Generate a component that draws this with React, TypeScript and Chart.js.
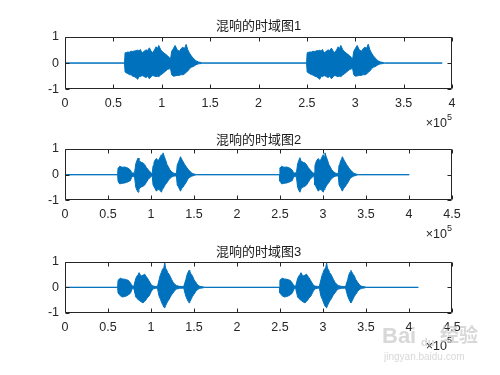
import React, { useEffect, useRef } from 'react';
import { Chart, registerables } from 'chart.js';

Chart.register(...registerables);

// ---------------- data (x in units of 10^5 samples) ----------------
const xTicks1Max = 4;
const xTicks23Max = 4.5;
const yTickValues = [-1, 0, 1];
const titles = ['混响的时域图1', '混响的时域图2', '混响的时域图3'];
const exponentBase = '×10';
const exponentPower = '5';

// Subplot 1: envelope of the waveform (upper / lower)
const p1Time = [
  0, 0.615, 0.621, 0.635, 0.648, 0.665, 0.683, 0.700, 0.717, 0.735, 0.752, 0.765, 0.779, 0.790, 0.804, 0.820,
  0.838, 0.855, 0.872, 0.890, 0.907, 0.925, 0.941, 0.955, 0.969, 0.990, 1.010, 1.035, 1.062, 1.080, 1.090,
  1.103, 1.120, 1.138, 1.160, 1.183, 1.200, 1.217, 1.235, 1.252, 1.270, 1.286, 1.305, 1.321, 1.340, 1.355,
  1.380, 1.407, 1.420,
  2.497, 2.503, 2.517, 2.530, 2.547, 2.565, 2.582, 2.599, 2.617, 2.634, 2.647, 2.661, 2.672, 2.686, 2.702,
  2.720, 2.737, 2.754, 2.772, 2.789, 2.807, 2.823, 2.837, 2.851, 2.872, 2.892, 2.917, 2.944, 2.962, 2.972,
  2.985, 3.002, 3.020, 3.042, 3.065, 3.082, 3.099, 3.117, 3.134, 3.152, 3.168, 3.187, 3.203, 3.222, 3.237,
  3.262, 3.289, 3.302, 3.899,
];
const p1Upper = [
  0, 0, 0.39, 0.40, 0.42, 0.41, 0.45, 0.44, 0.46, 0.47, 0.50, 0.45, 0.52, 0.42, 0.40, 0.46,
  0.50, 0.48, 0.58, 0.45, 0.40, 0.50, 0.62, 0.55, 0.67, 0.50, 0.42, 0.35, 0.27, 0.20, 0.14,
  0.45, 0.55, 0.67, 0.50, 0.45, 0.55, 0.60, 0.55, 0.71, 0.50, 0.38, 0.28, 0.20, 0.14, 0.08,
  0.04, 0.02, 0,
  0, 0.39, 0.41, 0.42, 0.42, 0.45, 0.44, 0.47, 0.47, 0.49, 0.45, 0.52, 0.43, 0.40, 0.46,
  0.50, 0.48, 0.57, 0.45, 0.40, 0.50, 0.62, 0.55, 0.67, 0.50, 0.42, 0.35, 0.27, 0.20, 0.14,
  0.45, 0.56, 0.67, 0.50, 0.45, 0.55, 0.60, 0.56, 0.72, 0.50, 0.38, 0.28, 0.20, 0.14, 0.08,
  0.04, 0.02, 0, 0,
];
const p1Lower = [
  0, 0, -0.34, -0.38, -0.40, -0.44, -0.45, -0.50, -0.52, -0.56, -0.62, -0.50, -0.52, -0.49, -0.48, -0.52,
  -0.55, -0.50, -0.60, -0.52, -0.47, -0.50, -0.52, -0.50, -0.52, -0.45, -0.40, -0.32, -0.24, -0.22, -0.20,
  -0.45, -0.50, -0.49, -0.47, -0.47, -0.44, -0.45, -0.42, -0.35, -0.30, -0.22, -0.16, -0.14, -0.10, -0.06,
  -0.03, -0.02, 0,
  0, -0.34, -0.38, -0.41, -0.44, -0.46, -0.50, -0.52, -0.57, -0.62, -0.50, -0.52, -0.49, -0.48, -0.52,
  -0.55, -0.50, -0.60, -0.52, -0.47, -0.50, -0.52, -0.50, -0.52, -0.45, -0.40, -0.32, -0.24, -0.22, -0.20,
  -0.45, -0.50, -0.49, -0.47, -0.47, -0.44, -0.45, -0.42, -0.35, -0.30, -0.22, -0.16, -0.14, -0.10, -0.06,
  -0.03, -0.02, 0, 0,
];

// Subplot 2
const p2Time = [
  0, 0.612, 0.617, 0.627, 0.637, 0.655, 0.675, 0.695, 0.714, 0.730, 0.745, 0.761, 0.775, 0.792, 0.810, 0.823,
  0.836, 0.850, 0.860, 0.869, 0.888, 0.908, 0.927, 0.946, 0.966, 0.986, 1.005, 1.015, 1.024, 1.034, 1.044,
  1.063, 1.080, 1.094, 1.108, 1.121, 1.131, 1.141, 1.155, 1.168, 1.187, 1.203, 1.218, 1.238, 1.257, 1.277,
  1.296, 1.305, 1.315, 1.330, 1.343, 1.355, 1.366, 1.393, 1.412, 1.432, 1.452, 1.471, 1.490, 1.509, 1.530,
  2.494, 2.499, 2.509, 2.519, 2.537, 2.557, 2.577, 2.596, 2.612, 2.627, 2.643, 2.657, 2.674, 2.692, 2.705,
  2.718, 2.732, 2.742, 2.751, 2.770, 2.790, 2.809, 2.828, 2.848, 2.868, 2.887, 2.897, 2.906, 2.916, 2.926,
  2.945, 2.962, 2.976, 2.990, 3.003, 3.013, 3.023, 3.037, 3.050, 3.069, 3.085, 3.100, 3.120, 3.139, 3.159,
  3.178, 3.187, 3.197, 3.212, 3.225, 3.237, 3.248, 3.275, 3.294, 3.314, 3.334, 3.353, 3.372, 3.391, 3.412,
  4.003,
];
const p2Upper = [
  0, 0, 0.26, 0.30, 0.33, 0.30, 0.29, 0.30, 0.28, 0.26, 0.22, 0.18, 0.08, 0.06, 0.10, 0.42,
  0.55, 0.65, 0.55, 0.52, 0.48, 0.46, 0.39, 0.28, 0.20, 0.12, 0.06, 0.08, 0.35, 0.46, 0.55,
  0.63, 0.55, 0.59, 0.70, 0.78, 0.70, 0.85, 0.70, 0.59, 0.39, 0.30, 0.20, 0.12, 0.07, 0.05,
  0.05, 0.38, 0.46, 0.58, 0.70, 0.62, 0.55, 0.39, 0.30, 0.20, 0.14, 0.07, 0.04, 0.02, 0,
  0, 0.26, 0.30, 0.33, 0.30, 0.29, 0.30, 0.28, 0.26, 0.22, 0.18, 0.08, 0.06, 0.10, 0.42,
  0.55, 0.66, 0.55, 0.52, 0.48, 0.46, 0.39, 0.28, 0.20, 0.12, 0.06, 0.08, 0.35, 0.46, 0.55,
  0.63, 0.55, 0.59, 0.70, 0.78, 0.70, 0.85, 0.70, 0.59, 0.39, 0.30, 0.20, 0.12, 0.07, 0.05,
  0.05, 0.38, 0.46, 0.58, 0.70, 0.62, 0.55, 0.39, 0.30, 0.20, 0.14, 0.07, 0.04, 0.02, 0,
  0,
];
const p2Lower = [
  0, 0, -0.25, -0.30, -0.36, -0.34, -0.33, -0.32, -0.30, -0.28, -0.25, -0.23, -0.10, -0.06, -0.12, -0.49,
  -0.60, -0.68, -0.58, -0.51, -0.48, -0.45, -0.40, -0.30, -0.19, -0.12, -0.06, -0.08, -0.40, -0.45, -0.52,
  -0.64, -0.58, -0.58, -0.62, -0.68, -0.58, -0.54, -0.45, -0.38, -0.30, -0.22, -0.15, -0.10, -0.06, -0.05,
  -0.05, -0.40, -0.45, -0.55, -0.64, -0.55, -0.51, -0.38, -0.28, -0.15, -0.10, -0.06, -0.04, -0.02, 0,
  0, -0.25, -0.30, -0.36, -0.34, -0.33, -0.32, -0.30, -0.28, -0.25, -0.23, -0.10, -0.06, -0.12, -0.49,
  -0.60, -0.68, -0.58, -0.51, -0.48, -0.45, -0.40, -0.30, -0.19, -0.12, -0.06, -0.08, -0.40, -0.45, -0.52,
  -0.64, -0.58, -0.58, -0.62, -0.68, -0.58, -0.54, -0.45, -0.38, -0.30, -0.22, -0.15, -0.10, -0.06, -0.05,
  -0.05, -0.40, -0.45, -0.55, -0.64, -0.55, -0.51, -0.38, -0.28, -0.15, -0.10, -0.06, -0.04, -0.02, 0,
  0,
];

// Subplot 3
const p3Time = [
  0, 0.612,
  0.617, 0.629, 0.644, 0.668, 0.695, 0.714, 0.734, 0.752, 0.765, 0.780, 0.800,
  0.823, 0.838, 0.850, 0.862, 0.875, 0.889, 0.908, 0.927, 0.939, 0.955, 0.978, 1.005, 1.024, 1.050, 1.075,
  1.094, 1.110, 1.122, 1.133, 1.141, 1.150, 1.160, 1.170, 1.180, 1.195, 1.211, 1.225, 1.238, 1.257, 1.277,
  1.296, 1.330, 1.380,
  1.405, 1.420, 1.432, 1.443, 1.451, 1.462, 1.471, 1.482, 1.498, 1.510, 1.521, 1.537, 1.550, 1.568, 1.585,
  1.606, 1.620,
  2.494,
  2.499, 2.511, 2.526, 2.550, 2.577, 2.596, 2.616, 2.634, 2.647, 2.662, 2.682,
  2.705, 2.720, 2.732, 2.744, 2.757, 2.771, 2.790, 2.809, 2.821, 2.837, 2.860, 2.887, 2.906, 2.932, 2.957,
  2.976, 2.992, 3.004, 3.015, 3.023, 3.032, 3.042, 3.052, 3.062, 3.077, 3.093, 3.107, 3.120, 3.139, 3.159,
  3.178, 3.212, 3.262,
  3.287, 3.302, 3.314, 3.325, 3.333, 3.344, 3.353, 3.364, 3.380, 3.392, 3.403, 3.419, 3.432, 3.450, 3.467,
  3.488, 3.502,
  4.108,
];
const p3Upper = [
  0, 0,
  0.28, 0.32, 0.36, 0.33, 0.32, 0.30, 0.28, 0.22, 0.15, 0.06, 0.04,
  0.35, 0.45, 0.50, 0.58, 0.50, 0.45, 0.48, 0.52, 0.45, 0.38, 0.25, 0.09, 0.05, 0.04, 0.03,
  0.30, 0.51, 0.60, 0.71, 0.75, 0.78, 0.97, 0.75, 0.71, 0.58, 0.51, 0.42, 0.32, 0.20, 0.12,
  0.07, 0.04, 0.03,
  0.30, 0.51, 0.60, 0.67, 0.62, 0.55, 0.51, 0.45, 0.32, 0.25, 0.20, 0.12, 0.08, 0.04, 0.03,
  0.02, 0,
  0,
  0.28, 0.32, 0.36, 0.33, 0.32, 0.30, 0.28, 0.22, 0.15, 0.06, 0.04,
  0.35, 0.45, 0.50, 0.58, 0.50, 0.45, 0.48, 0.52, 0.45, 0.38, 0.25, 0.09, 0.05, 0.04, 0.03,
  0.30, 0.51, 0.60, 0.71, 0.75, 0.78, 0.97, 0.75, 0.71, 0.58, 0.51, 0.42, 0.32, 0.20, 0.12,
  0.07, 0.04, 0.03,
  0.30, 0.51, 0.60, 0.67, 0.62, 0.55, 0.51, 0.45, 0.32, 0.25, 0.20, 0.12, 0.08, 0.04, 0.03,
  0.02, 0,
  0,
];
const p3Lower = [
  0, 0,
  -0.22, -0.28, -0.33, -0.38, -0.36, -0.34, -0.30, -0.26, -0.20, -0.06, -0.04,
  -0.38, -0.44, -0.48, -0.51, -0.55, -0.58, -0.61, -0.55, -0.51, -0.42, -0.34, -0.15, -0.06, -0.04, -0.03,
  -0.35, -0.47, -0.58, -0.67, -0.72, -0.78, -0.81, -0.72, -0.65, -0.55, -0.47, -0.38, -0.30, -0.22, -0.12,
  -0.07, -0.04, -0.03,
  -0.35, -0.47, -0.55, -0.61, -0.57, -0.50, -0.44, -0.36, -0.28, -0.22, -0.16, -0.10, -0.07, -0.04, -0.03,
  -0.02, 0,
  0,
  -0.22, -0.28, -0.33, -0.38, -0.36, -0.34, -0.30, -0.26, -0.20, -0.06, -0.04,
  -0.38, -0.44, -0.48, -0.51, -0.55, -0.58, -0.61, -0.55, -0.51, -0.42, -0.34, -0.15, -0.06, -0.04, -0.03,
  -0.35, -0.47, -0.58, -0.67, -0.72, -0.78, -0.81, -0.72, -0.65, -0.55, -0.47, -0.38, -0.30, -0.22, -0.12,
  -0.07, -0.04, -0.03,
  -0.35, -0.47, -0.55, -0.61, -0.57, -0.50, -0.44, -0.36, -0.28, -0.22, -0.16, -0.10, -0.07, -0.04, -0.03,
  -0.02, 0,
  0,
];

// ---------------- styling / layout ----------------
const W = 500;
const H = 375;
const BLUE = '#0072BD';
const AXIS = '#262626';
const FONT = '"Liberation Sans", Arial, "Noto Sans CJK SC", sans-serif';
const TICK_SIZE = 12.5;
const TITLE_SIZE = 13;
const X_AXIS_H = 42;
const Y_AXIS_W = 65;

type Cfg = {
  title: string;
  time: number[];
  upper: number[];
  lower: number[];
  xMax: number;
  titleCenter: number;
  boxTop: number;
  boxBottom: number;
  watermark?: boolean;
};

const configs: Cfg[] = [
  { title: titles[0], time: p1Time, upper: p1Upper, lower: p1Lower, xMax: xTicks1Max, titleCenter: 26.2, boxTop: 36.8, boxBottom: 89.3 },
  { title: titles[1], time: p2Time, upper: p2Upper, lower: p2Lower, xMax: xTicks23Max, titleCenter: 140, boxTop: 149, boxBottom: 200.4 },
  { title: titles[2], time: p3Time, upper: p3Upper, lower: p3Lower, xMax: xTicks23Max, titleCenter: 252.8, boxTop: 262, boxBottom: 312.7, watermark: true },
];

const framePlugin = {
  id: 'matlabFrame',
  afterDatasetsDraw(chart: any) {
    const { ctx, chartArea, scales } = chart;
    const { left, right, top, bottom } = chartArea;
    const L = Math.round(left) + 0.5;
    const R = Math.round(right) - 0.5;
    const T = Math.round(top) + 0.5;
    const B = Math.round(bottom) - 0.5;
    ctx.save();
    ctx.strokeStyle = AXIS;
    ctx.lineWidth = 1;
    ctx.beginPath();
    ctx.rect(L, T, R - L, B - T);
    const tl = 4;
    for (const t of scales.x.ticks) {
      const px = Math.round(scales.x.getPixelForValue(t.value)) + 0.5;
      ctx.moveTo(px, B); ctx.lineTo(px, B - tl);
      ctx.moveTo(px, T); ctx.lineTo(px, T + tl);
    }
    for (const t of scales.y.ticks) {
      const py = Math.round(scales.y.getPixelForValue(t.value)) + 0.5;
      ctx.moveTo(L, py); ctx.lineTo(L + tl, py);
      ctx.moveTo(R, py); ctx.lineTo(R - tl, py);
    }
    ctx.stroke();
    ctx.restore();
  },
  afterDraw(chart: any, _args: any, opts: any) {
    const { ctx, chartArea } = chart;
    // exponent label "×10^5" under the right end of the x axis
    const yBase = chartArea.bottom + 34;
    ctx.save();
    ctx.fillStyle = AXIS;
    ctx.textBaseline = 'middle';
    ctx.textAlign = 'right';
    ctx.font = `9px ${FONT}`;
    const pw = ctx.measureText(exponentPower).width;
    ctx.fillText(exponentPower, chartArea.right, yBase - 6);
    ctx.font = `${TICK_SIZE}px ${FONT}`;
    ctx.fillText(exponentBase, chartArea.right - pw, yBase);
    ctx.restore();

    if (!opts || !opts.watermark) return;
    ctx.save();
    ctx.fillStyle = 'rgba(200,200,200,0.7)';
    ctx.textAlign = 'left';
    ctx.textBaseline = 'middle';
    ctx.font = 'bold 22px "Liberation Sans", Arial, sans-serif';
    ctx.fillText('Bai', 382, 337);
    ctx.font = 'bold 11px "Liberation Sans", Arial, sans-serif';
    ctx.fillText('du', 421, 343);
    ctx.font = 'bold 19px "Noto Sans CJK SC", sans-serif';
    ctx.fillText('经验', 440, 335);
    ctx.font = '10px "Liberation Sans", Arial, sans-serif';
    ctx.fillText('jingyan.baidu.com', 384, 357);
    ctx.restore();
  },
};

function Subplot({ cfg }: { cfg: Cfg }) {
  const ref = useRef<HTMLCanvasElement | null>(null);
  useEffect(() => {
    if (!ref.current) return;
    const titleHalf = (TITLE_SIZE * 1.2) / 2;
    const chart = new Chart(ref.current, {
      type: 'line',
      data: {
        datasets: [
          {
            data: cfg.time.map((x, i) => ({ x, y: cfg.upper[i] })),
            borderColor: BLUE,
            backgroundColor: BLUE,
            borderWidth: 1,
            pointRadius: 0,
            tension: 0,
            fill: '+1',
          },
          {
            data: cfg.time.map((x, i) => ({ x, y: cfg.lower[i] })),
            borderColor: BLUE,
            backgroundColor: BLUE,
            borderWidth: 1,
            pointRadius: 0,
            tension: 0,
            fill: false,
          },
        ],
      },
      options: {
        animation: false,
        responsive: false,
        events: [],
        layout: {
          padding: {
            left: 0,
            right: 48,
            top: cfg.titleCenter - titleHalf,
            bottom: H - cfg.boxBottom - X_AXIS_H,
          },
        },
        plugins: {
          legend: { display: false },
          tooltip: { enabled: false },
          title: {
            display: true,
            fullSize: false,
            text: cfg.title,
            color: '#1a1a1a',
            font: { family: FONT, size: TITLE_SIZE, weight: 'normal', lineHeight: 1.2 },
            padding: { top: 0, bottom: cfg.boxTop - cfg.titleCenter - titleHalf },
          },
          matlabFrame: { watermark: !!cfg.watermark },
        } as any,
        scales: {
          x: {
            type: 'linear',
            position: 'bottom',
            min: 0,
            max: cfg.xMax,
            grid: { display: false, drawTicks: false },
            border: { display: false },
            ticks: {
              stepSize: 0.5,
              padding: 7,
              color: AXIS,
              autoSkip: false,
              maxRotation: 0,
              font: { family: FONT, size: TICK_SIZE },
              callback: (v: any) => String(Number(v)),
            },
            afterFit: (s: any) => {
              s.height = X_AXIS_H;
            },
          },
          y: {
            type: 'linear',
            min: -1,
            max: 1,
            grid: { display: false, drawTicks: false },
            border: { display: false },
            afterBuildTicks: (s: any) => {
              s.ticks = yTickValues.map((value) => ({ value }));
            },
            ticks: {
              padding: 6,
              color: AXIS,
              font: { family: FONT, size: TICK_SIZE },
              callback: (v: any) => String(Number(v)),
            },
            afterFit: (s: any) => {
              s.width = Y_AXIS_W;
            },
          },
        },
      } as any,
      plugins: [framePlugin],
    });
    return () => chart.destroy();
  }, [cfg]);
  return (
    <canvas
      ref={ref}
      width={W}
      height={H}
      style={{ position: 'absolute', left: 0, top: 0, width: W, height: H }}
    />
  );
}

export default function App() {
  return (
    <div style={{ position: 'fixed', left: 0, top: 0, width: W, height: H, background: '#ffffff', overflow: 'hidden' }}>
      {configs.map((c, i) => (
        <Subplot key={i} cfg={c} />
      ))}
    </div>
  );
}
